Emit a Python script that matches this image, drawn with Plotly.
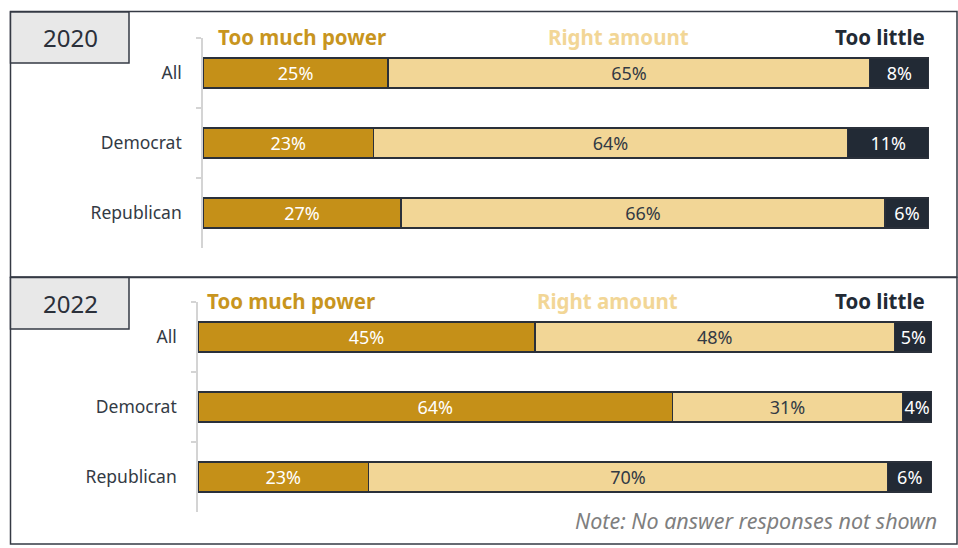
import plotly.graph_objects as go

W, H = 958, 548

categories = ["All", "Democrat", "Republican"]
series_names = ["Too much power", "Right amount", "Too little"]
years = ["2020", "2022"]

too_much_2020 = [25, 23, 27]
right_2020 = [65, 64, 66]
too_little_2020 = [8, 11, 6]

too_much_2022 = [45, 64, 23]
right_2022 = [48, 31, 70]
too_little_2022 = [5, 4, 6]

note_text = "Note: No answer responses not shown"

GOLD = "#c59018"
LIGHT = "#f2d696"
DARK = "#222a35"
OUTLINE = "#2a303a"
FONT = "'Noto Sans', 'Open Sans', sans-serif"

colors = [GOLD, LIGHT, DARK]
text_colors = ["#ffffff", "#333a44", "#ffffff"]
header_colors = ["#c8951e", "#f2d696", "#222a35"]

def px(x):
    return x / W

def py(y):
    return 1 - y / H

fig = go.Figure()

data_sets = [
    [too_much_2020, right_2020, too_little_2020],
    [too_much_2022, right_2022, too_little_2022],
]

for p, series in enumerate(data_sets):
    xa = "x" if p == 0 else "x2"
    ya = "y" if p == 0 else "y2"
    for i, vals in enumerate(series):
        fig.add_trace(go.Bar(
            y=categories, x=vals, orientation="h",
            name=series_names[i],
            marker=dict(color=colors[i], line=dict(color=OUTLINE, width=1.5)),
            text=[f"{v}%" for v in vals],
            textposition="inside", insidetextanchor="middle",
            textangle=0, constraintext="none",
            textfont=dict(family=FONT, size=18, color=text_colors[i]),
            width=0.43, xaxis=xa, yaxis=ya, showlegend=False,
            hoverinfo="skip",
        ))

yaxis_common = dict(
    type="category", range=[2.5, -0.5],
    showline=True, linecolor="#d4d4d4", linewidth=1.5,
    ticks="outside", tickson="boundaries", ticklen=5, tickcolor="#d4d4d4", tickwidth=1.5,
    tickfont=dict(family=FONT, size=17.5, color="#333a44"),
    ticklabelstandoff=16, showgrid=False, zeroline=False, fixedrange=True,
)
xaxis_common = dict(range=[0, 100], visible=False, showgrid=False, zeroline=False, fixedrange=True)

fig.update_layout(
    width=W, height=H,
    margin=dict(l=0, r=0, t=0, b=0),
    paper_bgcolor="white", plot_bgcolor="rgba(0,0,0,0)",
    barmode="stack", barnorm="percent",
    xaxis=dict(domain=[px(203), px(929)], anchor="y", **xaxis_common),
    yaxis=dict(domain=[py(248), py(38)], anchor="x", **yaxis_common),
    xaxis2=dict(domain=[px(198), px(932)], anchor="y2", **xaxis_common),
    yaxis2=dict(domain=[py(512), py(302)], anchor="x2", **yaxis_common),
    font=dict(family=FONT),
)

shapes = []
annotations = []
BORDER = "#353a44"

panel_y = [(11.5, 277), (277.5, 544)]
box_y = [(12, 63), (277.5, 329)]
header_cfg = [
    dict(y=37, centers=[302, 618], right=927),
    dict(y=301, centers=[291, 607], right=927),
]

for p in range(2):
    y0, y1 = panel_y[p]
    shapes.append(dict(type="rect", xref="paper", yref="paper",
                       x0=px(10.5), x1=px(957), y0=py(y1), y1=py(y0),
                       line=dict(color=BORDER, width=1.5), fillcolor="rgba(0,0,0,0)", layer="below"))
    b0, b1 = box_y[p]
    shapes.append(dict(type="rect", xref="paper", yref="paper",
                       x0=px(10.5), x1=px(129), y0=py(b1), y1=py(b0),
                       line=dict(color=BORDER, width=1.5), fillcolor="#e8e8e8", layer="below"))
    annotations.append(dict(text=years[p], xref="paper", yref="paper",
                            x=px(70), y=py((b0 + b1) / 2), xanchor="center", yanchor="middle",
                            showarrow=False, font=dict(family=FONT, size=24, color="#2b303a")))
    hc = header_cfg[p]
    for i in range(2):
        annotations.append(dict(text=f"<b>{series_names[i]}</b>", xref="paper", yref="paper",
                                x=px(hc["centers"][i]), y=py(hc["y"]), xanchor="center", yanchor="middle",
                                showarrow=False, font=dict(family=FONT, size=20.5, color=header_colors[i])))
    annotations.append(dict(text=f"<b>{series_names[2]}</b>", xref="paper", yref="paper",
                            x=px(hc["right"]), y=py(hc["y"]), xanchor="right", yanchor="middle",
                            showarrow=False, font=dict(family=FONT, size=20.5, color=header_colors[2])))

annotations.append(dict(text=f"<i>{note_text}</i>", xref="paper", yref="paper",
                        x=px(939), y=py(520), xanchor="right", yanchor="middle",
                        showarrow=False, font=dict(family=FONT, size=21.5, color="#7f7f7f")))

fig.update_layout(shapes=shapes, annotations=annotations)

fig.write_html("out.html", config={"displayModeBar": False},
               post_script="document.body.style.margin='0';document.body.style.padding='0';")
